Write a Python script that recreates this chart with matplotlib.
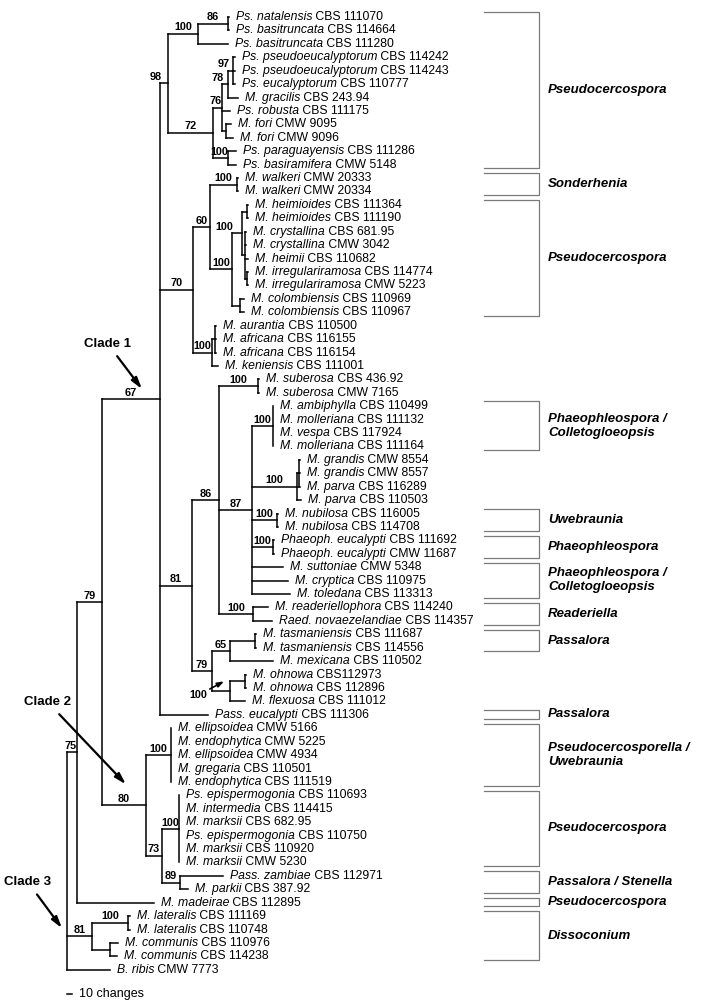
from collections import defaultdict

import matplotlib
matplotlib.use("Agg")
import matplotlib.pyplot as plt
from matplotlib.transforms import blended_transform_factory

plt.rcParams["font.family"] = "Liberation Sans"

# leaves, top to bottom
taxa = [
    "Ps. natalensis", "Ps. basitruncata", "Ps. basitruncata", "Ps. pseudoeucalyptorum",
    "Ps. pseudoeucalyptorum", "Ps. eucalyptorum", "M. gracilis", "Ps. robusta",
    "M. fori", "M. fori", "Ps. paraguayensis", "Ps. basiramifera",
    "M. walkeri", "M. walkeri", "M. heimioides", "M. heimioides",
    "M. crystallina", "M. crystallina", "M. heimii", "M. irregulariramosa",
    "M. irregulariramosa", "M. colombiensis", "M. colombiensis", "M. aurantia",
    "M. africana", "M. africana", "M. keniensis", "M. suberosa",
    "M. suberosa", "M. ambiphylla", "M. molleriana", "M. vespa",
    "M. molleriana", "M. grandis", "M. grandis", "M. parva",
    "M. parva", "M. nubilosa", "M. nubilosa", "Phaeoph. eucalypti",
    "Phaeoph. eucalypti", "M. suttoniae", "M. cryptica", "M. toledana",
    "M. readeriellophora", "Raed. novaezelandiae", "M. tasmaniensis", "M. tasmaniensis",
    "M. mexicana", "M. ohnowa", "M. ohnowa", "M. flexuosa",
    "Pass. eucalypti", "M. ellipsoidea", "M. endophytica", "M. ellipsoidea",
    "M. gregaria", "M. endophytica", "Ps. epispermogonia", "M. intermedia",
    "M. marksii", "Ps. epispermogonia", "M. marksii", "M. marksii",
    "Pass. zambiae", "M. parkii", "M. madeirae", "M. lateralis",
    "M. lateralis", "M. communis", "M. communis", "B. ribis",
]
strains = [
    "CBS 111070", "CBS 114664", "CBS 111280", "CBS 114242",
    "CBS 114243", "CBS 110777", "CBS 243.94", "CBS 111175",
    "CMW 9095", "CMW 9096", "CBS 111286", "CMW 5148",
    "CMW 20333", "CMW 20334", "CBS 111364", "CBS 111190",
    "CBS 681.95", "CMW 3042", "CBS 110682", "CBS 114774",
    "CMW 5223", "CBS 110969", "CBS 110967", "CBS 110500",
    "CBS 116155", "CBS 116154", "CBS 111001", "CBS 436.92",
    "CMW 7165", "CBS 110499", "CBS 111132", "CBS 117924",
    "CBS 111164", "CMW 8554", "CMW 8557", "CBS 116289",
    "CBS 110503", "CBS 116005", "CBS 114708", "CBS 111692",
    "CMW 11687", "CMW 5348", "CBS 110975", "CBS 113313",
    "CBS 114240", "CBS 114357", "CBS 111687", "CBS 114556",
    "CBS 110502", "CBS112973", "CBS 112896", "CBS 111012",
    "CBS 111306", "CMW 5166", "CMW 5225", "CMW 4934",
    "CBS 110501", "CBS 111519", "CBS 110693", "CBS 114415",
    "CBS 682.95", "CBS 110750", "CBS 110920", "CMW 5230",
    "CBS 112971", "CBS 387.92", "CBS 112895", "CBS 111169",
    "CBS 110748", "CBS 110976", "CBS 114238", "CMW 7773",
]
leaf_parent = [
    "n86a", "n86a", "n100a", "n97", "n97", "n97", "n78", "n76",
    "nfori", "nfori", "npara", "npara", "nwalk", "nwalk", "nheim", "nheim",
    "nD", "nD", "nD", "nirr", "nirr", "ncol", "ncol", "nF",
    "nF", "nF", "nE", "nsub", "nsub", "nmoll", "nmoll", "nmoll",
    "nmoll", "nH", "nH", "nH", "ngrand", "nnub", "nnub", "nphae",
    "nphae", "n87", "n87", "n87", "nread", "nread", "ntasm", "ntasm",
    "n65", "nohp", "nohp", "nohn", "n67", "nell", "nell", "nell",
    "nell", "nell", "nepi", "nepi", "nepi", "nepi", "nepi", "nepi",
    "n89", "n89", "n75", "nlat", "nlat", "ncom", "ncom", "root",
]
# branch lengths in changes
leaf_length = [
    2, 2, 60, 4, 4, 4, 20, 16,
    10, 14, 16, 16, 2, 2, 2, 2,
    2, 2, 6, 2, 2, 8, 8, 2,
    2, 2, 12, 2, 2, 0, 0, 0,
    0, 2, 2, 2, 8, 2, 2, 2,
    2, 62, 72, 76, 30, 38, 2, 2,
    86, 2, 2, 30, 96, 0, 0, 0,
    0, 0, 0, 0, 0, 0, 0, 0,
    86, 16, 154, 4, 4, 16, 14, 86,
]

clade_ids = [
    "root", "n75", "nc3", "n79a", "n67", "n80", "n98", "n70", "n81",
    "n100a", "n72", "n86a", "n76", "n78", "n97", "nfori", "npara",
    "n60", "nwalk", "nB", "nC", "nheim", "nD", "nirr", "ncol", "nE", "nF",
    "n86", "nsub", "n87", "nmoll", "ngrand", "nH", "nnub", "nphae", "nread",
    "n79b", "n65", "ntasm", "nohn", "nohp",
    "nell", "n73", "nepi", "n89", "nlat", "ncom",
]
clade_parent = [
    None, "root", "root", "n75", "n79a", "n79a", "n67", "n67", "n67",
    "n98", "n98", "n100a", "n72", "n76", "n78", "n76", "n72",
    "n70", "n60", "n60", "nB", "nC", "nC", "nD", "nB", "n70", "nE",
    "n81", "n86", "n86", "n87", "n87", "ngrand", "n87", "n87", "n86",
    "n81", "n79b", "n65", "n79b", "nohn",
    "n80", "n80", "n73", "n73", "nc3", "nc3",
]
clade_length = [
    0, 20, 50, 50, 116, 88, 16, 66, 64,
    60, 90, 60, 18, 12, 10, 8, 30,
    34, 54, 44, 20, 10, 6, 4, 16, 38, 6,
    54, 78, 66, 42, 90, 4, 50, 42, 68,
    40, 36, 50, 36, 30,
    50, 32, 34, 36, 72, 36,
]
clade_support = [
    "", "75", "81", "79", "67", "80", "98", "70", "81",
    "100", "72", "86", "76", "78", "97", "", "100",
    "60", "100", "100", "100", "", "", "", "", "100", "",
    "86", "100", "87", "100", "100", "", "100", "100", "100",
    "79", "65", "", "100", "",
    "100", "73", "100", "89", "100", "",
]

group_names = [
    "Pseudocercospora", "Sonderhenia", "Pseudocercospora",
    "Phaeophleospora /\nColletogloeopsis", "Uwebraunia", "Phaeophleospora",
    "Phaeophleospora /\nColletogloeopsis", "Readeriella", "Passalora", "Passalora",
    "Pseudocercosporella /\nUwebraunia", "Pseudocercospora", "Passalora / Stenella",
    "Pseudocercospora", "Dissoconium",
]
group_first = [1, 13, 15, 30, 38, 40, 42, 45, 47, 53, 54, 59, 65, 67, 68]
group_last = [12, 14, 23, 33, 39, 41, 44, 46, 48, 53, 58, 64, 66, 67, 71]

clade_names = ["Clade 1", "Clade 2", "Clade 3"]
clade_name_nodes = ["n67", "n80", "nc3"]

scale_changes = 10

# layout: 1 px = 2 changes, rows 13.42 px apart
PX = 2.0
STEP = 13.42
ROOT_PX = 67
TOP_PX = 17
W, H = 706, 1006
LEAF_FS = 8.8


def dx(px):
    return px * PX


def dy(px):
    return px / STEP


parent = {}
blen = {}
for i, (p, l) in enumerate(zip(leaf_parent, leaf_length)):
    parent[i] = p
    blen[i] = l
for c, p, l in zip(clade_ids, clade_parent, clade_length):
    parent[c] = p
    blen[c] = l

children = defaultdict(list)
for k, p in parent.items():
    if p is not None:
        children[p].append(k)

xpos = {}


def get_x(k):
    if k not in xpos:
        p = parent[k]
        xpos[k] = 0.0 if p is None else get_x(p) + blen[k]
    return xpos[k]


ypos = {}


def get_y(k):
    if k not in ypos:
        if isinstance(k, int):
            ypos[k] = float(k)
        else:
            ys = [get_y(c) for c in children[k]]
            ypos[k] = (min(ys) + max(ys)) / 2
    return ypos[k]


for k in parent:
    get_x(k)
    get_y(k)

fig = plt.figure(figsize=(W / 100, H / 100), dpi=100)
ax = fig.add_axes([0, 0, 1, 1])
ax.set_xlim(dx(-ROOT_PX), dx(W - ROOT_PX))
ax.set_ylim(dy(H - TOP_PX), dy(-TOP_PX))
ax.axis("off")

line_kw = dict(color="black", lw=1.1, solid_capstyle="projecting")

# branches
for k, p in parent.items():
    if p is None:
        continue
    ax.plot([xpos[p], xpos[k]], [ypos[k], ypos[k]], **line_kw)
for c in clade_ids:
    ys = [ypos[ch] for ch in children[c]]
    ax.plot([xpos[c], xpos[c]], [min(ys), max(ys)], **line_kw)

# leaf labels: italic name followed by upright strain number
for i, (t, s) in enumerate(zip(taxa, strains)):
    name = ax.annotate(t, (xpos[i], ypos[i]), xytext=(5, 0), textcoords="offset points",
                       ha="left", va="center", fontsize=LEAF_FS, fontstyle="italic")
    ax.annotate(" " + s, xy=(1, 0), xycoords=name, ha="left", va="bottom",
                fontsize=LEAF_FS)

# bootstrap support
sup_kw = dict(textcoords="offset points", va="bottom", fontsize=7.8, fontweight="bold")
for c, s in zip(clade_ids, clade_support):
    if not s or c == "nohn":
        continue
    p = parent[c]
    x0, x1 = xpos[p], xpos[c]
    width = dx(5.8 * len(s))
    if x1 - x0 < 0.75 * width:
        ax.annotate(s, (x0, ypos[c]), xytext=(1, 1), ha="right", **sup_kw)
    else:
        mid = (x0 + x1) / 2
        if mid + width / 2 > x1:
            ax.annotate(s, (x1, ypos[c]), xytext=(0, 1), ha="right", **sup_kw)
        else:
            ax.annotate(s, (mid, ypos[c]), xytext=(0, 1), ha="center", **sup_kw)

# support for the ohnowa clade sits below with an arrow
s = clade_support[clade_ids.index("nohn")]
ax.annotate(s, xy=(xpos["nohn"] - dx(6), ypos["nohn"] - dy(10)),
            xytext=(xpos["nohn"] - dx(23), ypos["nohn"] + dy(4)),
            ha="right", va="center", fontsize=7.8, fontweight="bold",
            arrowprops=dict(arrowstyle="-|>,head_length=0.5,head_width=0.18",
                            color="black", lw=1.2, shrinkA=0, shrinkB=0))

# clade arrows: (arrow tip from node), (label centre from tip), in pixels
clade_offsets = {
    "Clade 1": ((-18, -10), (-34, -45)),
    "Clade 2": ((-20, -21), (-78, -82)),
    "Clade 3": ((-30, -8), (-34, -46)),
}
for name, node in zip(clade_names, clade_name_nodes):
    (tx, ty), (lx, ly) = clade_offsets[name]
    tip = (xpos[node] + dx(tx), ypos[node] + dy(ty))
    ax.annotate(name, xy=tip, xytext=(tip[0] + dx(lx), tip[1] + dy(ly)),
                ha="center", va="center", fontsize=9.5, fontweight="bold",
                arrowprops=dict(arrowstyle="-|>,head_length=0.7,head_width=0.2",
                                color="black", lw=1.6, shrinkA=3, shrinkB=0))

# scale bar
ybar = ypos[len(taxa) - 1] + dy(24)
ax.plot([0, scale_changes], [ybar, ybar], color="black", lw=1.1)
ax.annotate(f"{scale_changes} changes", (scale_changes, ybar), xytext=(5, 0),
            textcoords="offset points", ha="left", va="center", fontsize=9)

# genus brackets on the right
trans = blended_transform_factory(ax.transAxes, ax.transData)
bx0, bx1, tx = 484 / W, 539 / W, 548 / W
for name, a, b in zip(group_names, group_first, group_last):
    top = a - 1 - 0.35
    bottom = b - 1 + 0.28
    ax.plot([bx0, bx1, bx1, bx0], [top, top, bottom, bottom], transform=trans,
            color="#7a7a7a", lw=0.9)
    ax.text(tx, (top + bottom) / 2, name, transform=trans, ha="left", va="center",
            fontsize=9.5, fontweight="bold", fontstyle="italic", linespacing=1.25)

fig.savefig("out.png", dpi=100)
